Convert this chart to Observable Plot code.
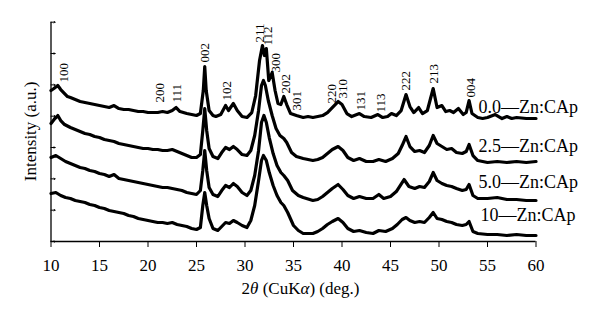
<!DOCTYPE html>
<html><head><meta charset="utf-8">
<script src="https://cdn.jsdelivr.net/npm/d3@7"></script>
<script src="https://cdn.jsdelivr.net/npm/@observablehq/plot@0.6"></script>
<style>body{margin:0;background:#fff}</style>
</head><body><div id="chart"></div>
<script>
const seriesNames = ["0.0—Zn:CAp", "2.5—Zn:CAp", "5.0—Zn:CAp", "10—Zn:CAp"];

const theta1 = [10,10.3,10.7,11,11.3,11.7,12,12.5,13,13.5,14,14.5,15,15.5,16,16.5,17,17.5,18,18.5,19,19.5,20,20.5,21,21.5,22,22.5,22.9,23.3,24,24.5,25,25.4,25.7,25.85,26,26.3,26.7,27,27.5,28,28.3,28.8,29.2,29.7,30.2,30.7,31.1,31.5,31.8,32,32.2,32.45,32.8,33.1,33.4,33.7,34,34.3,34.7,35.3,36,36.5,37,37.5,38,38.5,39,39.6,40,40.5,41,41.8,42.3,43,43.7,44.2,44.7,45.1,45.6,46.1,46.6,47,47.4,47.9,48.3,48.8,49.4,49.8,50.3,50.7,51.1,51.5,52,52.5,52.8,53.1,53.4,54,54.5,55,55.8,56.5,57,57.5,58,59,60];
const int1 = [151,153,156,152,149,145,144,142,140,139,138,137,136,135,134,136,133,132,132,131,130,130,129,129,129,130,129,131,134,130,128,127,126,128,151,175,151,131,126,125,127,136,131,138,131,125,124,129,146,181,196,186,193,161,169,151,138,137,145,137,128,126,124,125,124,125,126,129,134,140,137,128,125,128,125,124,127,124,125,128,126,131,147,135,129,134,128,131,153,134,136,130,131,129,133,127,129,141,128,124,123,124,127,123,125,123,124,123,123];

const theta2 = [10,10.4,10.7,11,11.4,12,12.5,13,13.5,14,14.5,15,15.5,16,16.5,17,17.5,18,18.5,19,19.5,20,20.5,21,21.5,22,22.5,23,23.5,24,24.5,25,25.4,25.65,25.85,26.05,26.3,26.7,27.2,27.6,28,28.4,28.8,29.2,29.7,30.2,30.6,31,31.4,31.7,31.9,32.1,32.4,32.8,33.2,33.6,34,34.3,34.8,35.3,36,37,37.5,38,38.5,39,39.6,40.1,40.6,41.2,41.8,42.5,43.2,43.8,44.5,45.2,45.8,46.2,46.6,47,47.5,48,48.5,49,49.4,49.8,50.3,50.8,51.3,51.8,52.4,52.8,53.1,53.5,54,55,56,57,58,59,60];
const int2 = [118,123,126,121,117,114,112,110,108,107,105,104,102,101,100,98,97,96,95,94,93,93,92,92,91,91,92,90,88,86,84,84,87,111,133,111,93,85,83,89,94,92,95,92,87,86,91,106,131,156,161,156,141,126,113,106,103,99,89,85,83,81,82,84,88,92,95,91,84,81,83,80,80,82,80,83,88,96,105,95,90,91,89,96,106,98,95,92,93,89,88,90,97,86,81,79,80,79,80,79,80];

const theta3 = [10,10.5,11,11.5,12,12.5,13,13.5,14,14.5,15,15.5,16,16.5,17,17.5,18,18.5,19,19.5,20,20.5,21,21.5,22,22.5,23,23.5,24,24.5,25,25.4,25.65,25.85,26.05,26.3,26.7,27.2,27.6,28,28.4,28.8,29.2,29.7,30.2,30.6,31,31.4,31.7,31.95,32.2,32.5,32.9,33.3,33.7,34,34.4,34.9,35.5,36,37,37.5,38,38.5,39,39.6,40.1,40.6,41.2,41.8,42.5,43.2,43.8,44.3,45,45.6,46,46.4,46.9,47.5,48,48.5,49,49.4,49.8,50.3,50.8,51.3,51.8,52.4,52.8,53.1,53.5,54,55,56,57,58,59,60];
const int3 = [84,86,83,80,78,76,74,73,71,70,68,67,65,67,63,62,61,60,59,58,57,56,55,54,54,53,52,51,49,48,47,51,71,91,71,54,47,45,51,56,54,58,55,49,46,51,66,91,119,126,119,104,88,76,69,66,61,51,46,44,41,42,45,49,53,57,52,46,43,45,43,43,47,43,45,50,56,62,55,53,55,54,60,69,61,58,56,55,53,51,52,57,46,43,43,44,42,42,41,41];

const theta4 = [10,10.5,11,11.5,12,12.5,13,13.5,14,14.5,15,15.5,16,16.5,17,17.5,18,18.5,19,19.5,20,20.5,21,21.5,22,22.5,23,23.5,24,24.5,25,25.4,25.65,25.85,26.05,26.3,26.7,27.2,27.6,28,28.4,28.8,29.2,29.7,30.2,30.6,31,31.4,31.7,31.9,32.2,32.5,32.9,33.3,33.7,34,34.4,35,35.5,36,37,37.5,38,38.5,39,39.6,40.1,40.6,41.2,41.8,42.5,43.2,43.8,44.5,45.2,45.7,46.2,46.6,47,47.5,48,48.5,49,49.4,49.8,50.3,50.8,51.3,51.8,52.4,52.8,53.1,53.5,54,55,56,57,58,59,60];
const int4 = [48,49,46,44,43,41,40,39,37,36,34,33,31,30,29,28,26,25,23,22,21,20,19,19,18,19,17,16,15,13,12,14,36,49,36,23,13,11,15,19,18,21,19,16,14,21,36,61,81,86,81,69,56,46,39,36,29,16,11,8,8,10,13,17,20,23,19,13,10,11,9,8,11,10,13,17,22,24,21,19,20,19,24,29,23,22,20,19,17,16,17,20,10,8,7,7,6,7,6,6];

const peakLabels = ["100","200","111","002","102","211","112","300","202","301","220","310","131","113","222","213","004"];
const peakTheta  = [11.29,21.19,22.94,25.82,28.09,31.5,32.32,33.15,34.18,35.31,38.92,40.05,41.91,43.97,46.55,49.43,53.25];
const peakBase   = [159,139,139,179,141,199,196,169,148,131,138,143,131,129,151,158,144];

const labelTheta = [54.07, 54.07, 54.07, 54.27];
const labelInt   = [134, 95, 59, 26];

const xTicks = [10,15,20,25,30,35,40,45,50,55,60];
const yTicks = [0, 31.33, 62.66, 94, 125.33, 156.66, 188, 219.33];
const yLabel = "Intensity (a.u.)";

const xs = [theta1, theta2, theta3, theta4];
const ys = [int1, int2, int3, int4];
const rows = [];
seriesNames.forEach((name, k) => xs[k].forEach((t, i) => rows.push({series: name, theta: t, intensity: ys[k][i]})));
const peaks = peakLabels.map((l, i) => ({label: l, theta: peakTheta[i], intensity: peakBase[i]}));
const seriesLabels = seriesNames.map((n, i) => ({label: n, theta: labelTheta[i], intensity: labelInt[i]}));

const font = "'Liberation Serif', 'DejaVu Serif', serif";
const chart = Plot.plot({
  width: 600,
  height: 324,
  marginLeft: 50.5,
  marginRight: 64.5,
  marginTop: 21.7,
  marginBottom: 83,
  style: {fontFamily: font, fontSize: "17px", color: "#000", background: "#fff"},
  x: {domain: [10, 60], ticks: xTicks, label: null},
  y: {domain: [0, 219.33], axis: null},
  marks: [
    Plot.axisX({ticks: xTicks, tickSize: 6, tickPadding: 11, fontSize: 17, label: null, stroke: "#000"}),
    Plot.vector(yTicks, {x: 10, y: d => d, length: 4, rotate: 90, anchor: "start", stroke: "#000", strokeWidth: 1}),
    Plot.ruleX([10], {stroke: "#000", strokeWidth: 1.3}),
    Plot.ruleY([0], {stroke: "#000", strokeWidth: 1.3}),
    Plot.line(rows, {x: "theta", y: "intensity", z: "series", stroke: "#000", strokeWidth: 3.2, strokeLinejoin: "round"}),
    Plot.text(peaks, {x: "theta", y: "intensity", text: "label", rotate: -90, textAnchor: "start", fontSize: 13, fill: "#000"}),
    Plot.text(seriesLabels, {x: "theta", y: "intensity", text: "label", textAnchor: "start", fontSize: 18, fill: "#000"}),
    Plot.text(["2θ (CuKα) (deg.)"], {frameAnchor: "bottom", textAnchor: "middle", dy: 52, dx: 7, fontSize: 17, fill: "#000"})
  ]
});
document.getElementById("chart").appendChild(chart);
chart.querySelectorAll("text").forEach(t => {
  if (t.textContent === "2θ (CuKα) (deg.)") {
    t.innerHTML = '2<tspan font-style="italic">θ</tspan> (CuK<tspan font-style="italic">α</tspan>) (deg.)';
  }
});
// y-axis title: start-anchored, shifted by half its measured length so it is centred on the frame
const sx = chart.scale("x"), sy = chart.scale("y");
const cx = sx.apply(sx.domain[0]) - 20;
const cy = (sy.apply(sy.domain[0]) + sy.apply(sy.domain[1])) / 2;
const ns = "http://www.w3.org/2000/svg";
const yt = document.createElementNS(ns, "text");
yt.setAttribute("text-anchor", "start");
yt.setAttribute("dy", "0.32em");
yt.setAttribute("font-size", "17");
yt.setAttribute("font-family", font);
yt.setAttribute("fill", "#000");
yt.textContent = yLabel;
chart.appendChild(yt);
const len = yt.getComputedTextLength() || 110;
yt.setAttribute("transform", `translate(${cx},${cy + len / 2}) rotate(-90)`);
</script>
</body></html>
